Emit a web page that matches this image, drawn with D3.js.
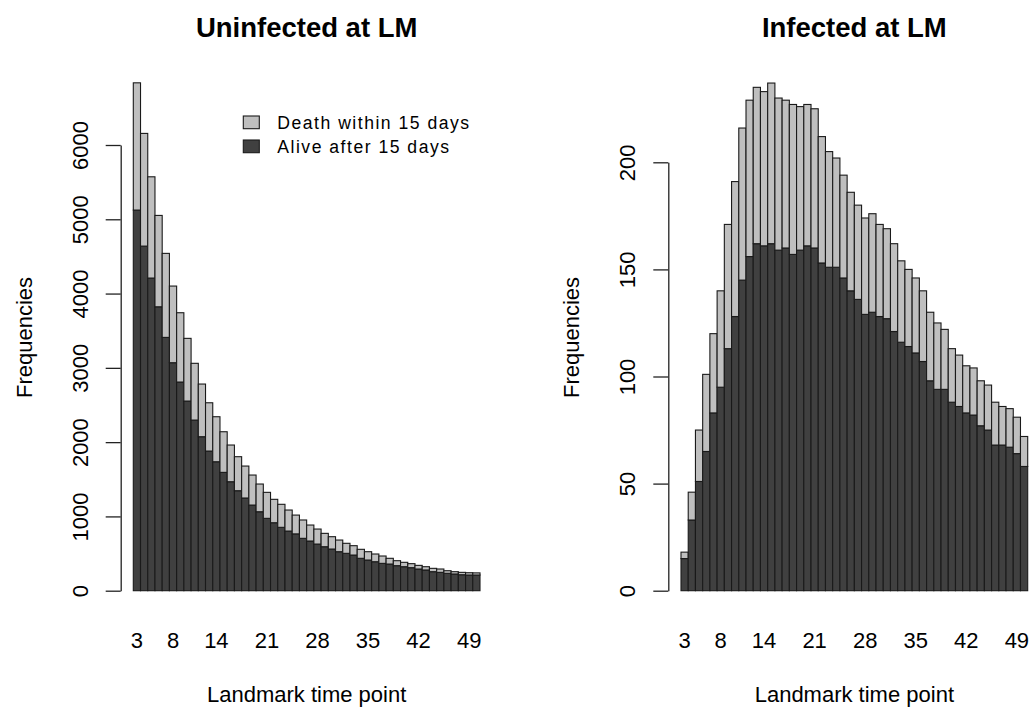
<!DOCTYPE html>
<html>
<head>
<meta charset="utf-8">
<script src="https://cdn.jsdelivr.net/npm/d3@7"></script>
<style>
body { margin: 0; background: #fff; }
svg text { font-family: "Liberation Sans", Arial, Helvetica, sans-serif; fill: #000; }
</style>
</head>
<body>
<div id="container"></div>
<script>
// landmark time points (one bar each)
const times = [3, 4, 5, 6, 7, 8, 9, 10, 11, 12, 13, 14, 15, 16, 17, 18, 19, 20, 21, 22, 23, 24, 25, 26,
    27, 28, 29, 30, 31, 32, 33, 34, 35, 36, 37, 38, 39, 40, 41, 42, 43, 44, 45, 46, 47, 48, 49, 50];
const xTickLabels = [3, 8, 14, 21, 28, 35, 42, 49];

// uninfected: bar height (all) and lower part (alive after 15 days)
const uninfTotal = [6837, 6156, 5572, 5052, 4541, 4101, 3742, 3397, 3061, 2782, 2530, 2342, 2140, 1961, 1804, 1678,
    1557, 1436, 1324, 1230, 1163, 1086, 1018, 952, 884, 830, 772, 727, 682, 638, 606, 557,
    525, 494, 467, 436, 404, 382, 364, 341, 323, 301, 292, 269, 256, 247, 242, 240];
const uninfAlive = [5124, 4639, 4209, 3822, 3410, 3069, 2809, 2553, 2297, 2073, 1880, 1736, 1593, 1467, 1346, 1248,
    1153, 1063, 974, 915, 853, 803, 765, 705, 669, 628, 592, 561, 525, 503, 480, 436,
    413, 390, 368, 359, 337, 323, 310, 292, 279, 256, 247, 234, 225, 215, 211, 211];

// infected
const infTotal = [18, 46, 75, 101, 120, 140, 171, 191, 216, 229, 235, 233, 237, 230, 229, 227,
    226, 227, 225, 212, 205, 202, 194, 186, 180, 174, 176, 171, 169, 162, 154, 150,
    146, 140, 130, 125, 122, 113, 110, 105, 104, 98, 96, 88, 86, 85, 81, 72];
const infAlive = [15, 33, 51, 65, 83, 95, 113, 128, 145, 156, 162, 161, 162, 159, 160, 157,
    159, 161, 160, 153, 151, 151, 146, 140, 136, 129, 130, 128, 127, 121, 116, 114,
    111, 107, 98, 94, 94, 88, 86, 83, 82, 77, 75, 68, 68, 67, 64, 58];

const leftTicks = [0, 1000, 2000, 3000, 4000, 5000, 6000];
const rightTicks = [0, 50, 100, 150, 200];

const legendLabels = ["Death within 15 days", "Alive after 15 days"];
const lightGrey = "#bfbfbf", darkGrey = "#404040";

var width = 1034, height = 711;
var baseY = 590.7;

const svg = d3.select("div#container").append("svg")
    .attr("width", width)
    .attr("height", height)
    ;

function panel(opt) {
    var g = svg.append("g");

    var x = d3.scaleBand().domain(times).range([opt.x0, opt.x1]).padding(0);
    var y = d3.scaleLinear().domain([0, opt.ticks[opt.ticks.length - 1]]).range([baseY, opt.yTop]);

    var bars = g.append("g")
        .attr("stroke", "#1a1a1a")
        .attr("stroke-width", 1.1)
        .selectAll("g")
        .data(times)
        .join("g");

    // alive (bottom)
    bars.append("rect")
        .attr("x", d => x(d))
        .attr("width", x.bandwidth())
        .attr("y", (d, i) => y(opt.alive[i]))
        .attr("height", (d, i) => y(0) - y(opt.alive[i]))
        .attr("fill", darkGrey);

    // death (stacked on top)
    bars.append("rect")
        .attr("x", d => x(d))
        .attr("width", x.bandwidth())
        .attr("y", (d, i) => y(opt.total[i]))
        .attr("height", (d, i) => y(opt.alive[i]) - y(opt.total[i]))
        .attr("fill", lightGrey);

    // y axis
    var yAxis = g.append("g")
        .attr("transform", "translate(" + opt.axisX + ",0)")
        .call(d3.axisLeft(y).tickValues(opt.ticks).tickSize(15).tickSizeOuter(0).tickFormat(d3.format("d")))
        ;
    yAxis.selectAll("path, line").attr("stroke", "#222").attr("stroke-width", 1.3);
    yAxis.selectAll("text")
        .attr("x", 0)
        .attr("dy", null)
        .attr("transform", "translate(-33,0) rotate(-90)")
        .attr("text-anchor", "middle")
        .attr("font-size", 22)
        .attr("font-family", null);

    // x labels
    var xAxis = g.append("g")
        .attr("transform", "translate(0," + baseY + ")")
        .call(d3.axisBottom(x).tickValues(xTickLabels).tickSize(0).tickPadding(42))
        ;
    xAxis.select(".domain").remove();
    xAxis.selectAll("text")
        .attr("font-size", 22)
        .attr("font-family", null);

    var cx = (opt.x0 + opt.x1) / 2;

    g.append("text")
        .attr("x", cx)
        .attr("y", 36.5)
        .attr("text-anchor", "middle")
        .attr("font-size", 27.5)
        .attr("font-weight", "bold")
        .text(opt.title);

    g.append("text")
        .attr("x", cx)
        .attr("y", 702)
        .attr("text-anchor", "middle")
        .attr("font-size", 22)
        .text("Landmark time point");

    g.append("text")
        .attr("transform", "translate(" + (opt.axisX - 89.2) + ",337.5) rotate(-90)")
        .attr("text-anchor", "middle")
        .attr("font-size", 22)
        .text("Frequencies");

    return g;
}

var left = panel({ x0: 133.3, x1: 480, yTop: 145, axisX: 120.7, ticks: leftTicks,
    total: uninfTotal, alive: uninfAlive, title: "Uninfected at LM" });

panel({ x0: 681, x1: 1027.7, yTop: 162.3, axisX: 668.3, ticks: rightTicks,
    total: infTotal, alive: infAlive, title: "Infected at LM" });

// legend (left panel only)
var legend = left.append("g")
    .selectAll("g")
    .data(legendLabels)
    .join("g")
    .attr("transform", (d, i) => "translate(243.3," + (116 + i * 24) + ")");

legend.append("rect")
    .attr("width", 16)
    .attr("height", 12.7)
    .attr("fill", (d, i) => i == 0 ? lightGrey : darkGrey)
    .attr("stroke", "#1a1a1a")
    .attr("stroke-width", 1.1);

legend.append("text")
    .attr("x", 34)
    .attr("y", 13)
    .attr("font-size", 17.6)
    .attr("letter-spacing", 1.5)
    .text(d => d);
</script>
</body>
</html>
